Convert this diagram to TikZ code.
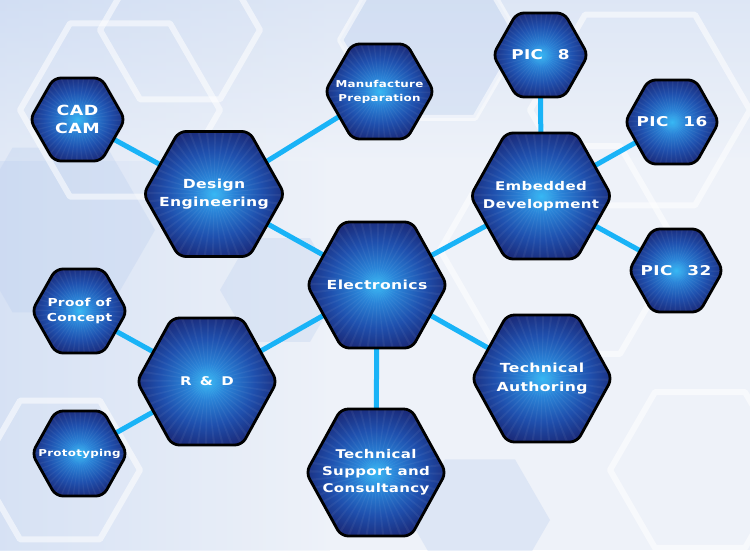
\documentclass[tikz,border=0pt]{standalone}
\usepackage{fontspec}
\newfontfamily\hexfont[FakeStretch=1.25,LetterSpace=3]{DejaVu Sans}
\definecolor{hexA}{HTML}{38B8F4}
\definecolor{hexB}{HTML}{2A84D8}
\definecolor{hexC}{HTML}{1F50AE}
\definecolor{hexD}{HTML}{1B2C7C}
\definecolor{connc}{HTML}{19B3F7}
\definecolor{bgbase}{HTML}{EEF2F9}
\definecolor{bgblue}{HTML}{B9CDEE}
\pgfdeclareradialshading{hexshade}{\pgfpoint{0bp}{0bp}}{color(0bp)=(hexA); color(7bp)=(hexB); color(17bp)=(hexC); color(26bp)=(hexD); color(50bp)=(hexD)}
\pgfdeclarelayer{bg}
\pgfdeclarelayer{edges}
\pgfsetlayers{bg,edges,main}
\tikzset{
  hexbody/.style={draw=black, line width=2.8pt, rounded corners=7pt, shading=hexshade,
    path picture={\foreach \a in {0,7.5,...,352.5}{\fill[white,opacity=0.05] (path picture bounding box.center) -- +(\a:95) -- +(\a+2:95) -- cycle;}}},
  hextext/.style={text=white, align=center, inner sep=0pt},
  conn/.style={draw=connc, line width=5pt},
  bgline/.style={draw=white, line width=6pt, opacity=0.55, line join=round},
  bgfill/.style={fill=bgblue, opacity=0.3},
}
\newcommand\hexnode[8]{%
  \path[hexbody] (#2,#3) ++(-#4,0) -- ++(#4/2,-#5) -- ++(#4,0) -- ++(#4/2,#5) -- ++(-#4/2,#5) -- ++(-#4,0) -- cycle;
  \node[hextext,font=\hexfont\bfseries\fontsize{#6}{#7}\selectfont] (#1) at (#2,#3) {#8};
}
\newcommand\bghex[4]{%
  \path[#4] (#1,#2) ++(-#3,0) -- ++(#3/2,-0.866*#3) -- ++(#3,0) -- ++(#3/2,0.866*#3) -- ++(-#3/2,0.866*#3) -- ++(-#3,0) -- cycle;
}
\begin{document}
\begin{tikzpicture}[x=1pt,y=-1pt]
\useasboundingbox (0,0) rectangle (750,550);
\begin{pgfonlayer}{bg}
  \fill[bgbase] (0,0) rectangle (750,550);
  \shade[left color=bgblue!80, right color=bgbase, opacity=0.6] (0,0) rectangle (330,550);
  \shade[top color=bgblue!70, bottom color=bgbase, opacity=0.5] (0,0) rectangle (750,160);
  \bghex{60}{230}{95}{bgfill}
  \bghex{180}{30}{80}{bgline}
  \bghex{430}{40}{90}{bgfill}
  \bghex{430}{40}{90}{bgline}
  \bghex{640}{110}{110}{bgline}
  \bghex{700}{470}{90}{bgline}
  \bghex{480}{520}{70}{bgfill}
  \bghex{60}{470}{80}{bgline}
  \bghex{280}{290}{60}{bgfill}
  \bghex{560}{250}{120}{bgline}
  \bghex{120}{110}{100}{bgline}
\end{pgfonlayer}

\hexnode{elec}{377}{285}{70}{63}{12.5}{17}{Electronics}
\hexnode{design}{214}{194}{70.5}{62.5}{12.5}{18}{Design\\Engineering}
\hexnode{embed}{541}{196}{70.5}{63}{12}{17.5}{Embedded\\Development}
\hexnode{rd}{207}{381.5}{70}{63.5}{12}{17}{R\hspace{0.7em}\&\hspace{0.7em}D}
\hexnode{tauth}{542}{378.5}{70}{63.5}{12.5}{19.5}{Technical\\Authoring}
\hexnode{tsupp}{376}{472.5}{70}{63.5}{12}{17}{Technical\\Support and\\Consultancy}
\hexnode{cad}{77.5}{119.5}{47.5}{41.5}{14}{18}{CAD\\CAM}
\hexnode{manuf}{379.5}{91.5}{54.5}{47.5}{9.5}{14}{Manufacture\\Preparation}
\hexnode{pic8}{540.5}{55}{47.5}{42}{13.5}{17}{PIC\hspace{1.1em}8}
\hexnode{pic16}{672}{122}{47}{42}{13.5}{17}{PIC\hspace{1.1em}16}
\hexnode{pic32}{676}{270.5}{47}{41.5}{13.5}{17}{PIC\hspace{1.1em}32}
\hexnode{poc}{79.5}{311}{47.5}{42}{11}{15}{Proof of\\Concept}
\hexnode{proto}{79.5}{453.5}{47.5}{42.5}{9.5}{14}{Prototyping}

\begin{pgfonlayer}{edges}
  \draw[conn] (elec.center) -- (design.center);
  \draw[conn] (elec.center) -- (embed.center);
  \draw[conn] (elec.center) -- (rd.center);
  \draw[conn] (elec.center) -- (tauth.center);
  \draw[conn] (elec.center) -- (tsupp.center);
  \draw[conn] (design.center) -- (cad.center);
  \draw[conn] (design.center) -- (manuf.center);
  \draw[conn] (embed.center) -- (pic8.center);
  \draw[conn] (embed.center) -- (pic16.center);
  \draw[conn] (embed.center) -- (pic32.center);
  \draw[conn] (rd.center) -- (poc.center);
  \draw[conn] (rd.center) -- (proto.center);
\end{pgfonlayer}
\end{tikzpicture}
\end{document}
